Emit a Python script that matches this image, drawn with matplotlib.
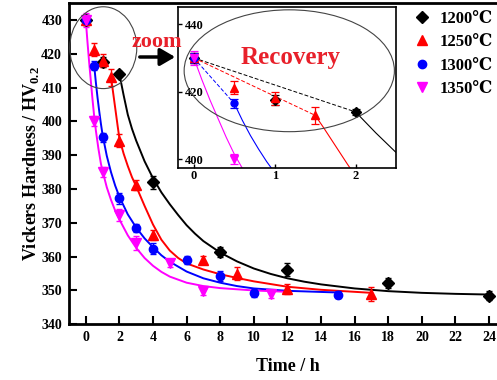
import matplotlib
matplotlib.use("Agg")
import matplotlib.pyplot as plt
from matplotlib.patches import Ellipse, FancyArrowPatch
from matplotlib.lines import Line2D

plt.rcParams['font.family'] = ['Liberation Serif', 'DejaVu Serif']
plt.rcParams['font.weight'] = 'bold'
plt.rcParams['mathtext.fontset'] = 'custom'
plt.rcParams['mathtext.rm'] = 'Liberation Serif:bold'
plt.rcParams['mathtext.bf'] = 'Liberation Serif:bold'

labels = ['1200\u2103', '1250\u2103', '1300\u2103', '1350\u2103']
colors = ['black', 'red', 'blue', 'magenta']
markers = ['D', '^', 'o', 'v']

# measured hardness
t_1200 = [0, 1, 2, 4, 8, 12, 18, 24]
hv_1200 = [430, 417.5, 414, 382, 361.3, 356.2, 352.3, 348.5]
err_1200 = [1.5, 1.5, 1.0, 2.0, 1.5, 1.8, 1.5, 1.2]

t_1250 = [0, 0.5, 1, 1.5, 2, 3, 4, 7, 9, 12, 17]
hv_1250 = [430, 421.2, 418, 413, 394.3, 381.3, 366.5, 359, 355, 350.5, 349]
err_1250 = [1.5, 2, 2, 2.5, 2, 1.5, 1.5, 1.2, 2, 1.5, 2]

t_1300 = [0, 0.5, 1, 2, 3, 4, 6, 8, 10, 15]
hv_1300 = [430, 416.5, 395.3, 377.2, 368.5, 362.4, 359, 354.2, 349.3, 348.8]
err_1300 = [1.5, 1.3, 1.3, 1.5, 1.2, 1.5, 1.2, 1.5, 1.2, 1.0]

t_1350 = [0, 0.5, 1, 2, 3, 5, 7, 11]
hv_1350 = [430, 400, 385, 372.3, 364, 358, 349.7, 348.9]
err_1350 = [2, 1.5, 1.5, 1.8, 2, 1.2, 1.0, 1.0]

# fitted curves
fit_t_1200 = [2, 2.25, 2.5, 2.75, 3, 3.5, 4, 4.5, 5, 5.5, 6, 6.5, 7, 8, 9, 10, 11, 12,
              13, 14, 16, 18, 20, 22, 24]
fit_hv_1200 = [414, 407.8, 402, 397.8, 394.3, 388.2, 383.2, 379, 375.5, 372.3, 369.3,
               366.8, 364.6, 361.2, 358.6, 356.5, 354.9, 353.6, 352.6, 351.8, 350.6,
               349.8, 349.3, 349.0, 348.8]
fit_t_1250 = [1.5, 1.6, 1.75, 1.9, 2, 2.25, 2.5, 2.75, 3, 3.5, 4, 4.5, 5, 5.5, 6, 7, 8,
              9, 10, 12, 14, 17]
fit_hv_1250 = [413, 409.5, 404, 398.5, 395, 390.5, 386.8, 383.5, 380.8, 375, 369.5, 365,
               361.8, 359.6, 358, 356.2, 354.8, 353.7, 352.7, 351.1, 350.2, 349.3]
fit_t_1300 = [0.5, 0.6, 0.7, 0.8, 0.9, 1, 1.25, 1.5, 1.75, 2, 2.5, 3, 3.5, 4, 4.5, 5, 6,
              7, 8, 9, 10, 12, 15]
fit_hv_1300 = [416.5, 411.5, 407, 403, 399.3, 396, 389.8, 385, 381, 377.7, 372.5, 368.6,
               365.4, 362.8, 360.4, 358.5, 355.6, 353.6, 352.3, 351.3, 350.6, 349.9, 349.4]
fit_t_1350 = [0, 0.1, 0.2, 0.3, 0.4, 0.5, 0.6, 0.75, 0.9, 1, 1.25, 1.5, 1.75, 2, 2.5, 3,
              3.5, 4, 4.5, 5, 6, 7, 8, 10, 12]
fit_hv_1350 = [430, 423.5, 417.5, 412, 406.5, 401.5, 397.3, 392, 387.5, 385.3, 380.5,
               376.8, 373.6, 371, 366.3, 362.6, 359.6, 357.3, 355.5, 354.1, 352.3, 351.3,
               350.7, 350, 349.6]

# recovery stage (dashed, inset only)
rec_t_1200 = [0, 2]
rec_hv_1200 = [430, 414]
rec_t_1250 = [0, 1.5]
rec_hv_1250 = [430, 413]
rec_t_1300 = [0, 0.5]
rec_hv_1300 = [430, 416.5]

pts = [(t_1200, hv_1200, err_1200), (t_1250, hv_1250, err_1250),
       (t_1300, hv_1300, err_1300), (t_1350, hv_1350, err_1350)]
fits = [(fit_t_1200, fit_hv_1200), (fit_t_1250, fit_hv_1250),
        (fit_t_1300, fit_hv_1300), (fit_t_1350, fit_hv_1350)]
recs = [(rec_t_1200, rec_hv_1200, 'black'), (rec_t_1250, rec_hv_1250, 'red'),
        (rec_t_1300, rec_hv_1300, 'blue')]

fig = plt.figure(figsize=(4.97, 3.80), dpi=100)
ax = fig.add_axes([0.1388, 0.1466, 0.879, 0.8454])

for (t, hv, e), (ft, fhv), c, m in zip(pts, fits, colors, markers):
    ax.plot(ft, fhv, color=c, lw=1.4, zorder=2)
    ax.errorbar(t, hv, yerr=e, fmt=m, color=c, ms=6 if m in 'Do' else 7,
                capsize=2.5, elinewidth=1, capthick=1, zorder=3)

ax.set_xlim(-1, 25)
ax.set_ylim(340, 435)
ax.set_xticks(range(0, 25, 2))
ax.set_yticks(range(340, 431, 10))
ax.tick_params(direction='in', length=5.5, width=1.5, labelsize=10, pad=5)
for s in ax.spines.values():
    s.set_linewidth(2)
ax.set_xlabel('Time / h', fontsize=13, fontweight='bold', labelpad=10)
ax.set_ylabel('Vickers Hardness / HV$_{0.2}$', fontsize=13, fontweight='bold', labelpad=0)

ax.add_patch(Ellipse((1.04, 421.8), 3.99, 24.2, fill=False, ec='#444444', lw=0.8,
                     clip_on=False, zorder=4))

handles = [Line2D([], [], ls='none', marker=m, color=c, ms=6 if m in 'Do' else 7)
           for m, c in zip(markers, colors)]
fig.legend(handles, labels, loc='upper left', bbox_to_anchor=(0.81, 1.0),
           frameon=False, fontsize=12, handlelength=1.0, handletextpad=0.6,
           labelspacing=0.45, borderaxespad=0.25)

# inset
axi = fig.add_axes([0.3575, 0.5571, 0.4393, 0.4237])
for (t, hv, e), (ft, fhv), c, m in zip(pts, fits, colors, markers):
    axi.plot(ft, fhv, color=c, lw=0.8, zorder=2)
    axi.errorbar(t, hv, yerr=e, fmt=m, color=c, ms=5 if m in 'Do' else 6,
                 capsize=3, elinewidth=0.9, capthick=0.9, zorder=3)
for rt, rhv, c in recs:
    axi.plot(rt, rhv, color=c, lw=0.7, ls=(0, (4, 2)), zorder=2)
axi.set_xlim(-0.2, 2.5)
axi.set_ylim(397.3, 445)
axi.set_xticks([0, 1, 2])
axi.set_yticks([400, 420, 440])
axi.tick_params(direction='in', length=3, width=1, labelsize=9)
axi.tick_params(axis='x', pad=1)
axi.tick_params(axis='y', pad=-5)
for lab in axi.get_yticklabels():
    lab.set_horizontalalignment('left')
for s in axi.spines.values():
    s.set_linewidth(1.2)
axi.add_patch(Ellipse((1.18, 426.2), 2.6, 36.1, fill=False, ec='#444444', lw=0.8, zorder=4))
axi.text(1.2, 430, 'Recovery', color='#e8202a', fontsize=18, fontweight='bold',
         ha='center', va='center')

fig.text(0.3159, 0.889, 'zoom', color='#e8202a', fontsize=16, fontweight='bold',
         ha='center', va='center', zorder=10)
fig.add_artist(FancyArrowPatch((0.2757, 0.85), (0.358, 0.85), transform=fig.transFigure,
                               arrowstyle='-|>,head_length=0.6,head_width=0.35',
                               mutation_scale=15, lw=2.5, color='black', zorder=10))

fig.savefig('out.png', dpi=100)
